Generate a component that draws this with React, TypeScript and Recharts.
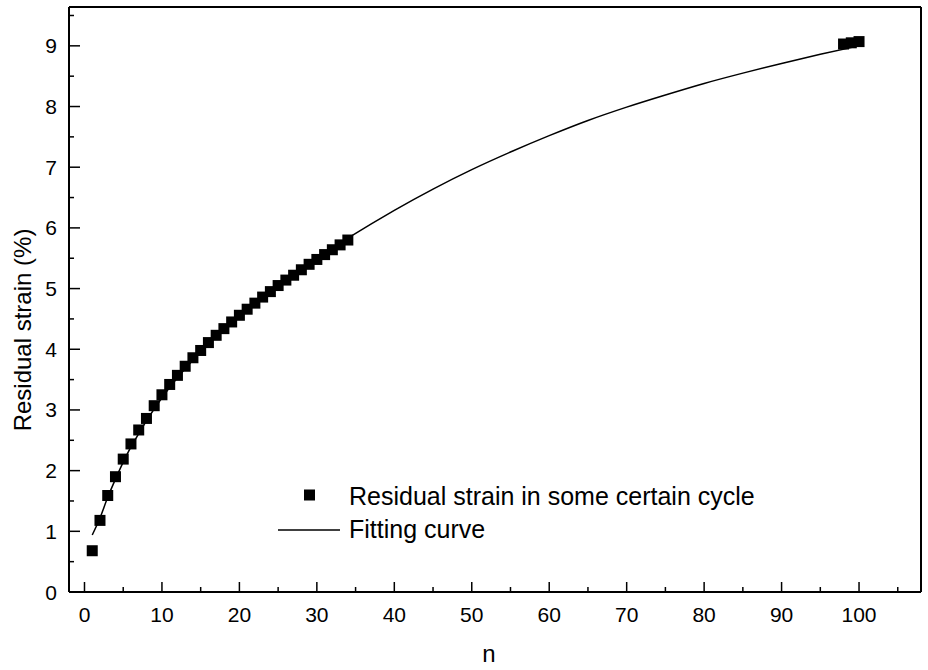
import React from 'react';
import { ScatterChart, Scatter, XAxis, YAxis, ReferenceLine } from 'recharts';

const cycleN = [1, 2, 3, 4, 5, 6, 7, 8, 9, 10, 11, 12, 13, 14, 15, 16, 17, 18, 19, 20, 21, 22, 23, 24, 25, 26, 27, 28, 29, 30, 31, 32, 33, 34, 98, 99, 100];
const strainValues = [0.68, 1.18, 1.59, 1.9, 2.19, 2.44, 2.67, 2.86, 3.07, 3.25, 3.42, 3.57, 3.72, 3.86, 3.98, 4.11, 4.23, 4.34, 4.45, 4.56, 4.66, 4.76, 4.86, 4.95, 5.05, 5.14, 5.22, 5.31, 5.4, 5.48, 5.56, 5.64, 5.72, 5.8, 9.03, 9.05, 9.07];

const fitN = [1, 2, 3, 4, 5, 6, 7, 8, 10, 12, 15, 20, 25, 30, 34, 40, 45, 50, 55, 60, 65, 70, 75, 80, 85, 90, 95, 100];
const fitValues = [0.94, 1.22, 1.56, 1.86, 2.14, 2.39, 2.61, 2.82, 3.2, 3.53, 3.96, 4.57, 5.07, 5.5, 5.83, 6.29, 6.64, 6.96, 7.25, 7.52, 7.77, 7.99, 8.19, 8.38, 8.55, 8.71, 8.86, 9.0];

const xTicks = [0, 5, 10, 15, 20, 25, 30, 35, 40, 45, 50, 55, 60, 65, 70, 75, 80, 85, 90, 95, 100, 105];
const yTicks = [0, 0.5, 1, 1.5, 2, 2.5, 3, 3.5, 4, 4.5, 5, 5.5, 6, 6.5, 7, 7.5, 8, 8.5, 9, 9.5];

const X_DOMAIN: [number, number] = [-2, 108];
const Y_DOMAIN: [number, number] = [0, 9.64];

const points = cycleN.map((n, i) => ({ n, v: strainValues[i] }));
const curve = fitN.map((n, i) => ({ n, v: fitValues[i] }));

const FONT = '"Liberation Sans", Arial, Helvetica, sans-serif';

const XTick = (props: any) => {
  const { x, y, payload } = props;
  const v = payload.value;
  const major = v % 10 === 0;
  return (
    <g>
      <line x1={x} x2={x} y1={y} y2={y - (major ? 10 : 5)} stroke="#000" strokeWidth={1.5} />
      {major && (
        <text x={x} y={y + 30} textAnchor="middle" fontSize={21} fontFamily={FONT} fill="#000">
          {v}
        </text>
      )}
    </g>
  );
};

const YTick = (props: any) => {
  const { x, y, payload } = props;
  const v = payload.value;
  const major = Number.isInteger(v);
  return (
    <g>
      <line x1={x} x2={x + (major ? 11 : 5)} y1={y} y2={y} stroke="#000" strokeWidth={1.5} />
      {major && (
        <text x={x - 12} y={y + 7.5} textAnchor="end" fontSize={21} fontFamily={FONT} fill="#000">
          {v}
        </text>
      )}
    </g>
  );
};

const SquareShape = (props: any) => {
  const { cx, cy } = props;
  if (cx == null || cy == null) return null;
  return <rect x={cx - 5.5} y={cy - 5.5} width={11} height={11} fill="#000" />;
};

const NoShape = () => null;

const LegendBox = () => (
  <svg
    width={520}
    height={80}
    style={{ position: 'absolute', left: 270, top: 475, display: 'block', pointerEvents: 'none' }}
  >
    <rect x={34} y={14.5} width={11} height={11} fill="#000" />
    <text x={79} y={30} fontSize={25} fontFamily={FONT} fill="#000">
      Residual strain in some certain cycle
    </text>
    <line x1={8} x2={70} y1={55} y2={55} stroke="#000" strokeWidth={1.5} />
    <text x={79} y={63} fontSize={25} fontFamily={FONT} fill="#000">
      Fitting curve
    </text>
  </svg>
);

export default function App() {
  return (
    <div style={{ position: 'absolute', left: 0, top: 0, width: 928, height: 670, background: '#fff' }}>
      <ScatterChart width={928} height={670} margin={{ top: 7, right: 7, left: 0, bottom: 0 }}>
        <XAxis
          dataKey="n"
          type="number"
          domain={X_DOMAIN}
          ticks={xTicks}
          interval={0}
          tickSize={0}
          tickMargin={0}
          tickLine={false}
          tick={<XTick />}
          axisLine={{ stroke: '#000', strokeWidth: 2 }}
          height={78}
          label={() => (
            <text x={489} y={662} textAnchor="middle" fontSize={24} fontFamily={FONT} fill="#000">
              n
            </text>
          )}
        />
        <YAxis
          dataKey="v"
          type="number"
          domain={Y_DOMAIN}
          ticks={yTicks}
          interval={0}
          tickSize={0}
          tickMargin={0}
          tickLine={false}
          tick={<YTick />}
          axisLine={{ stroke: '#000', strokeWidth: 2 }}
          width={69}
          label={() => (
            <text
              x={22}
              y={330}
              transform="rotate(-90 22 330)"
              textAnchor="middle"
              dominantBaseline="central"
              fontSize={24}
              fontFamily={FONT}
              fill="#000"
            >
              Residual strain (%)
            </text>
          )}
        />
        <ReferenceLine y={Y_DOMAIN[1]} stroke="#000" strokeWidth={2} />
        <ReferenceLine x={X_DOMAIN[1]} stroke="#000" strokeWidth={2} />
        <Scatter
          name="Fitting curve"
          data={curve}
          line={{ stroke: '#000', strokeWidth: 1.5 }}
          lineJointType="monotoneX"
          shape={<NoShape />}
          isAnimationActive={false}
        />
        <Scatter
          name="Residual strain in some certain cycle"
          data={points}
          shape={<SquareShape />}
          isAnimationActive={false}
        />
      </ScatterChart>
      <LegendBox />
    </div>
  );
}
